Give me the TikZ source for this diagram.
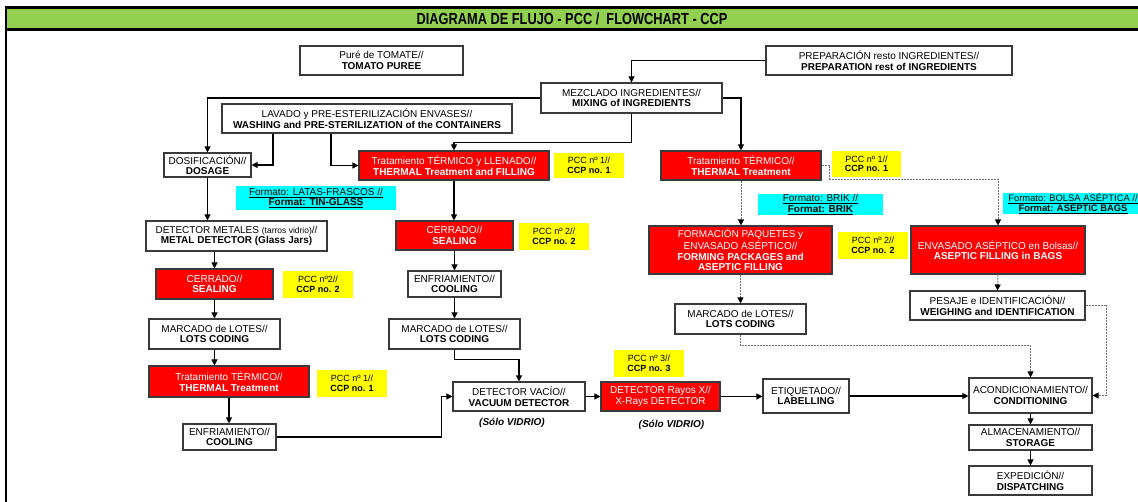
\documentclass[tikz,border=0pt]{standalone}
\usepackage{fontspec}
\setmainfont{Liberation Sans}
\newfontfamily\titlefont[FakeStretch=0.8]{Liberation Sans}
\usetikzlibrary{arrows.meta,calc}
\definecolor{hdrgreen}{HTML}{92D050}
\definecolor{bordergray}{HTML}{3A3A3A}
\definecolor{dashgray}{HTML}{707070}
\definecolor{pccyellow}{HTML}{FFFF00}
\definecolor{fmtcyan}{HTML}{00FFFF}
\definecolor{boxred}{HTML}{FF0000}
\newcommand\ul[1]{\underline{#1}}
\begin{document}
\begin{tikzpicture}[x=1pt,y=-1pt,
 box/.style={draw=bordergray, line width=1.1pt, fill=white, inner sep=0pt, align=center, font=\fontsize{10}{10.5}\selectfont},
 redbox/.style={box, fill=boxred, text=white},
 pccbox/.style={fill=pccyellow, inner sep=0pt, align=center, font=\fontsize{9}{9.5}\selectfont},
 fmtbox/.style={fill=fmtcyan, inner sep=0pt, align=center, font=\fontsize{10}{10.5}\selectfont},
 note/.style={inner sep=0pt, font=\fontsize{10}{11}\selectfont\bfseries\itshape},
 arr/.style={line width=1.1pt, -{Triangle[length=6pt,width=6pt]}},
 darr/.style={draw=dashgray, line width=1pt, dash pattern=on 2pt off 1pt, -{Triangle[length=6pt,width=6pt,color=black]}}
]
\path[use as bounding box] (0,0) rectangle (1138,502);
% header
\fill[black] (5,6) rectangle (1138,31);
\fill[hdrgreen] (7,9) rectangle (1138,28);
\node[inner sep=0pt, font={\titlefont\fontsize{16}{16}\selectfont\bfseries}] (title) at (572,19) {DIAGRAMA DE FLUJO - PCC /\ \ FLOWCHART - CCP};
\draw[line width=2pt] (6,31) -- (6,502);

% boxes
\node[box, minimum width=163pt, minimum height=29pt] (tom) at (381.5,60.5) {Puré de TOMATE//\\\textbf{TOMATO PUREE}};
\node[box, minimum width=246pt, minimum height=29pt] (prep) at (889,60.5) {PREPARACIÓN resto INGREDIENTES//\\\textbf{PREPARATION rest of INGREDIENTS}};
\node[box, minimum width=181pt, minimum height=30pt] (mix) at (631.5,98) {MEZCLADO INGREDIENTES//\\\textbf{MIXING of INGREDIENTS}};
\node[box, minimum width=290pt, minimum height=29pt] (lav) at (367,118.5) {LAVADO y PRE-ESTERILIZACIÓN ENVASES//\\\textbf{WASHING and PRE-STERILIZATION of the CONTAINERS}};
\node[box, minimum width=87pt, minimum height=24pt] (dos) at (207.5,165) {DOSIFICACIÓN//\\\textbf{DOSAGE}};
\node[redbox, minimum width=190pt, minimum height=29pt] (ttl) at (454,165.5) {Tratamiento TÉRMICO y LLENADO//\\\textbf{THERMAL Treatment and FILLING}};
\node[pccbox, minimum width=70pt, minimum height=25pt] (pcc1a) at (589,165.5) {PCC nº 1//\\\textbf{CCP no. 1}};
\node[redbox, minimum width=160pt, minimum height=29pt] (ttr) at (741,165.5) {Tratamiento TÉRMICO//\\\textbf{THERMAL Treatment}};
\node[pccbox, minimum width=69pt, minimum height=26pt] (pcc1b) at (866.5,164) {PCC nº 1//\\\textbf{CCP no. 1}};
\node[fmtbox, minimum width=160pt, minimum height=24pt] (fmtl) at (316,198) {\ul{Formato: LATAS-FRASCOS //}\\\ul{\textbf{Format: TIN-GLASS}}};
\node[box, minimum width=181pt, minimum height=30pt] (met) at (236.5,236) {DETECTOR METALES {\fontsize{8.5}{9}\selectfont(tarros vidrio)}//\\\textbf{METAL DETECTOR (Glass Jars)}};
\node[redbox, minimum width=117pt, minimum height=30pt] (cerl) at (214.5,284) {CERRADO//\\\textbf{SEALING}};
\node[pccbox, minimum width=70pt, minimum height=27pt] (pcc2a) at (318,284.5) {PCC nº2//\\\textbf{CCP no. 2}};
\node[redbox, minimum width=117pt, minimum height=29pt] (cerm) at (454.5,235.5) {CERRADO//\\\textbf{SEALING}};
\node[pccbox, minimum width=70pt, minimum height=27pt] (pcc2b) at (554,236.5) {PCC nº 2//\\\textbf{CCP no. 2}};
\node[box, minimum width=93pt, minimum height=26pt] (enfm) at (454.5,284) {ENFRIAMIENTO//\\\textbf{COOLING}};
\node[box, minimum width=131pt, minimum height=30pt] (marm) at (454.5,334) {MARCADO de LOTES//\\\textbf{LOTS CODING}};
\node[box, minimum width=131pt, minimum height=30pt] (marl) at (214.5,334) {MARCADO de LOTES//\\\textbf{LOTS CODING}};
\node[redbox, minimum width=160pt, minimum height=31pt] (ttlo) at (229,381.5) {Tratamiento TÉRMICO//\\\textbf{THERMAL Treatment}};
\node[pccbox, minimum width=70pt, minimum height=27pt] (pcc1c) at (352,383.5) {PCC nº 1//\\\textbf{CCP no. 1}};
\node[box, minimum width=93pt, minimum height=26pt] (enfl) at (229.5,437) {ENFRIAMIENTO//\\\textbf{COOLING}};
\node[box, minimum width=132pt, minimum height=29pt] (vac) at (519,396.5) {DETECTOR VACÍO//\\\textbf{VACUUM DETECTOR}};
\node[redbox, minimum width=119pt, minimum height=29pt] (xr) at (660.5,396.5) {DETECTOR Rayos X//\\X-Rays DETECTOR};
\node[pccbox, minimum width=70pt, minimum height=27pt] (pcc3) at (649,363.5) {PCC nº 3//\\\textbf{CCP no. 3}};
\node[box, minimum width=86pt, minimum height=34pt] (eti) at (806,396) {ETIQUETADO//\\\textbf{LABELLING}};
\node[note] (sv1) at (512,423) {(Sólo VIDRIO)};
\node[note] (sv2) at (671.5,425) {(Sólo VIDRIO)};
\node[redbox, minimum width=183pt, minimum height=48pt] (frm) at (740.5,250) {FORMACIÓN PAQUETES y\\ENVASADO ASÉPTICO//\\\textbf{FORMING PACKAGES and}\\\textbf{ASEPTIC FILLING}};
\node[pccbox, minimum width=70pt, minimum height=27pt] (pcc2c) at (873,245.5) {PCC nº 2//\\\textbf{CCP no. 2}};
\node[redbox, minimum width=174pt, minimum height=48pt] (env) at (998,250) {ENVASADO ASÉPTICO en Bolsas//\\\textbf{ASEPTIC FILLING in BAGS}};
\node[fmtbox, minimum width=125pt, minimum height=21pt] (fmtb) at (820.5,204.5) {\ul{Formato: BRIK //}\\\ul{\textbf{Format: BRIK}}};
\begin{scope}
\clip (0,0) rectangle (1138,502);
\node[fmtbox, minimum width=140pt, minimum height=21pt, font=\fontsize{9.4}{10.3}\selectfont] (fmtbag) at (1073,203.5) {\ul{Formato: BOLSA ASÉPTICA //}\\\ul{\textbf{Format: ASEPTIC BAGS}}};
\end{scope}
\node[box, minimum width=131pt, minimum height=30pt] (marr) at (740.5,319) {MARCADO de LOTES//\\\textbf{LOTS CODING}};
\node[box, minimum width=175pt, minimum height=29pt] (pes) at (997.5,305.5) {PESAJE e IDENTIFICACIÓN//\\\textbf{WEIGHING and IDENTIFICATION}};
\node[box, minimum width=123pt, minimum height=35pt] (acd) at (1030.5,395.5) {ACONDICIONAMIENTO//\\\textbf{CONDITIONING}};
\node[box, minimum width=123pt, minimum height=25pt] (alm) at (1030.5,437.5) {ALMACENAMIENTO//\\\textbf{STORAGE}};
\node[box, minimum width=123pt, minimum height=29pt] (exp) at (1030.5,480.5) {EXPEDICIÓN//\\\textbf{DISPATCHING}};

% helper coordinates
\coordinate (lavA) at ($(lav.south)+(-94,0)$);
\coordinate (lavB) at ($(lav.south)+(-36,0)$);

% solid connectors
\draw[arr] (prep.west) -| (mix.north);
\draw[arr] (mix.west) -| (dos.north);
\draw[arr] (mix.south) -- ++(0,29) -| (ttl.north);
\draw[arr] (mix.east) -| (ttr.north);
\draw[arr] (lavA) |- (dos.east);
\draw[arr] (lavB) |- (ttl.west);
\draw[arr] (dos.south) -- (dos.south |- met.north);
\draw[arr] (cerl.north |- met.south) -- (cerl.north);
\draw[arr] (cerl.south) -- (marl.north);
\draw[arr] (marl.south) -- (marl.south |- ttlo.north);
\draw[arr] (ttlo.south) -- (ttlo.south |- enfl.north);
\draw[arr] (enfl.east) -- ++(165,0) |- (vac.west);
\draw[arr] (ttl.south) -- (ttl.south |- cerm.north);
\draw[arr] (cerm.south) -- (enfm.north);
\draw[arr] (enfm.south) -- (marm.north);
\draw[arr] (marm.south) -- ++(0,10) -| (vac.north);
\draw[arr] (vac.east) -- (xr.west);
\draw[arr] (xr.east) -- (xr.east -| eti.west);
\draw[arr] (eti.east) -- (eti.east -| acd.west);
\draw[arr] (acd.south) -- (alm.north);
\draw[arr] (alm.south) -- (exp.north);

% dashed connectors
\draw[darr] (ttr.south) -- (ttr.south |- frm.north);
\draw[darr] (ttr.east) -- ++(8,0) -- ++(0,14) -| (env.north);
\draw[darr] (frm.south) -- (frm.south |- marr.north);
\draw[darr] (marr.south) -- ++(0,11) -| (acd.north);
\draw[darr] (env.south) -- (pes.north);
\draw[darr] (pes.east) -- ++(21,0) |- (acd.east);
\end{tikzpicture}
\end{document}
